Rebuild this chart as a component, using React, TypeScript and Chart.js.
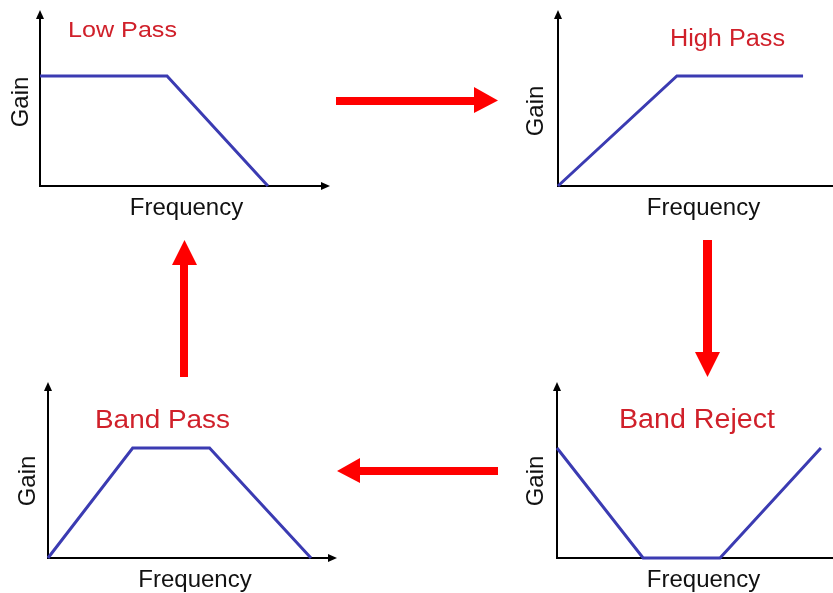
import { useEffect, useRef } from "react";
import { Chart, registerables } from "chart.js";

Chart.register(...registerables);

// ---- data ----
const panelTitles = ["Low Pass", "High Pass", "Band Pass", "Band Reject"];
const xAxisLabel = "Frequency";
const yAxisLabel = "Gain";

const lowPassFreq = [0, 4.38, 7.86];
const lowPassGain = [6.25, 6.25, 0];

const highPassFreq = [0, 4.1, 8.45];
const highPassGain = [0, 6.25, 6.25];

const bandPassFreq = [0, 2.93, 5.59, 9.1];
const bandPassGain = [0, 6.25, 6.25, 0];

const bandRejectFreq = [0, 2.97, 5.62, 9.1];
const bandRejectGain = [6.25, 0, 0, 6.25];

const freqSeries = [lowPassFreq, highPassFreq, bandPassFreq, bandRejectFreq];
const gainSeries = [lowPassGain, highPassGain, bandPassGain, bandRejectGain];

// ---- styling / layout ----
const FONT = 'Arial, "Liberation Sans", sans-serif';
const CW = 860;
const CH = 593;
const LINE_COLOR = "#3b3bb2";
const TITLE_COLOR = "#d0202a";
const ARROW_COLOR = "#ff0000";

type Layout = {
  area: { left: number; right: number; top: number; bottom: number };
  title: { x: number; y: number; size: number; width: number };
  gain: { x: number; y: number };
  freq: { x: number; y: number };
};

const layouts: Layout[] = [
  { area: { left: 40, right: 330, top: 10, bottom: 186 }, title: { x: 122.5, y: 37, size: 22, width: 109 }, gain: { x: 28, y: 102 }, freq: { x: 186.5, y: 215 } },
  { area: { left: 558, right: 848, top: 10, bottom: 186 }, title: { x: 727.5, y: 46, size: 23, width: 115 }, gain: { x: 543, y: 111 }, freq: { x: 703.5, y: 215 } },
  { area: { left: 48, right: 337, top: 382, bottom: 558 }, title: { x: 162.5, y: 428, size: 26.5, width: 135 }, gain: { x: 35, y: 481 }, freq: { x: 195, y: 587 } },
  { area: { left: 557, right: 847, top: 382, bottom: 558 }, title: { x: 697, y: 428, size: 27, width: 156 }, gain: { x: 543, y: 481 }, freq: { x: 703.5, y: 587 } },
];

function drawArrows(ctx: CanvasRenderingContext2D) {
  ctx.save();
  ctx.fillStyle = ARROW_COLOR;
  const poly = (pts: number[][]) => {
    ctx.beginPath();
    pts.forEach(([x, y], i) => (i ? ctx.lineTo(x, y) : ctx.moveTo(x, y)));
    ctx.closePath();
    ctx.fill();
  };
  // right arrow (top)
  poly([[336, 97], [474, 97], [474, 87], [498, 100.5], [474, 113], [474, 105], [336, 105]]);
  // down arrow (right)
  poly([[703, 240], [712, 240], [712, 352], [720, 352], [707.5, 377], [695, 352], [703, 352]]);
  // left arrow (bottom)
  poly([[498, 467], [360, 467], [360, 458], [337, 471], [360, 483], [360, 475], [498, 475]]);
  // up arrow (left)
  poly([[180, 377], [180, 265], [172, 265], [184.5, 240], [197, 265], [188, 265], [188, 377]]);
  ctx.restore();
}

function makePlugin(idx: number) {
  const L = layouts[idx];
  return {
    id: "filterDecor" + idx,
    beforeDatasetsDraw(chart: any) {
      const { ctx, chartArea } = chart;
      const { left, right, top, bottom } = chartArea;
      ctx.save();
      ctx.strokeStyle = "#000";
      ctx.fillStyle = "#000";
      ctx.lineWidth = 2;
      ctx.beginPath();
      ctx.moveTo(left, bottom + 1);
      ctx.lineTo(left, top + 6);
      ctx.moveTo(left - 1, bottom);
      ctx.lineTo(right - 6, bottom);
      ctx.stroke();
      ctx.beginPath();
      ctx.moveTo(left, top);
      ctx.lineTo(left - 4, top + 9);
      ctx.lineTo(left + 4, top + 9);
      ctx.closePath();
      ctx.fill();
      ctx.beginPath();
      ctx.moveTo(right, bottom);
      ctx.lineTo(right - 9, bottom - 4);
      ctx.lineTo(right - 9, bottom + 4);
      ctx.closePath();
      ctx.fill();
      ctx.restore();
    },
    afterDraw(chart: any) {
      const { ctx } = chart;
      ctx.save();
      ctx.textAlign = "center";
      ctx.textBaseline = "alphabetic";
      ctx.fillStyle = TITLE_COLOR;
      ctx.font = `${L.title.size}px ${FONT}`;
      const w = ctx.measureText(panelTitles[idx]).width;
      ctx.save();
      ctx.translate(L.title.x, L.title.y);
      ctx.scale(L.title.width / w, 1);
      ctx.fillText(panelTitles[idx], 0, 0);
      ctx.restore();
      ctx.fillStyle = "#111";
      ctx.font = `24px ${FONT}`;
      ctx.fillText(xAxisLabel, L.freq.x, L.freq.y);
      ctx.translate(L.gain.x, L.gain.y);
      ctx.rotate(-Math.PI / 2);
      ctx.fillText(yAxisLabel, 0, 0);
      ctx.restore();
      if (idx === 0) drawArrows(ctx);
    },
  };
}

export default function App() {
  const refs = [useRef<HTMLCanvasElement>(null), useRef<HTMLCanvasElement>(null), useRef<HTMLCanvasElement>(null), useRef<HTMLCanvasElement>(null)];

  useEffect(() => {
    document.body.style.margin = "0";
    const charts: Chart[] = [];
    refs.forEach((r, i) => {
      const canvas = r.current;
      if (!canvas) return;
      const L = layouts[i];
      const data = freqSeries[i].map((f, k) => ({ x: f, y: gainSeries[i][k] }));
      charts.push(
        new Chart(canvas, {
          type: "line",
          data: {
            datasets: [
              {
                label: panelTitles[i],
                data,
                borderColor: LINE_COLOR,
                borderWidth: 3,
                pointRadius: 0,
                tension: 0,
                fill: false,
                clip: false as any,
              },
            ],
          },
          options: {
            animation: false,
            responsive: false,
            devicePixelRatio: 1,
            events: [],
            layout: {
              padding: {
                left: L.area.left,
                right: CW - L.area.right,
                top: L.area.top,
                bottom: CH - L.area.bottom,
              },
            },
            plugins: { legend: { display: false }, title: { display: false }, tooltip: { enabled: false } },
            scales: {
              x: { type: "linear", min: 0, max: 10, display: false },
              y: { type: "linear", min: 0, max: 10, display: false },
            },
          },
          plugins: [makePlugin(i)],
        })
      );
    });
    return () => charts.forEach((c) => c.destroy());
  }, []);

  return (
    <div style={{ position: "fixed", left: 0, top: 0, width: 833, height: 593, overflow: "hidden", background: "#fff" }}>
      {refs.map((r, i) => (
        <canvas
          key={i}
          ref={r}
          width={CW}
          height={CH}
          style={{ position: "absolute", left: 0, top: 0, width: CW, height: CH }}
        />
      ))}
    </div>
  );
}
